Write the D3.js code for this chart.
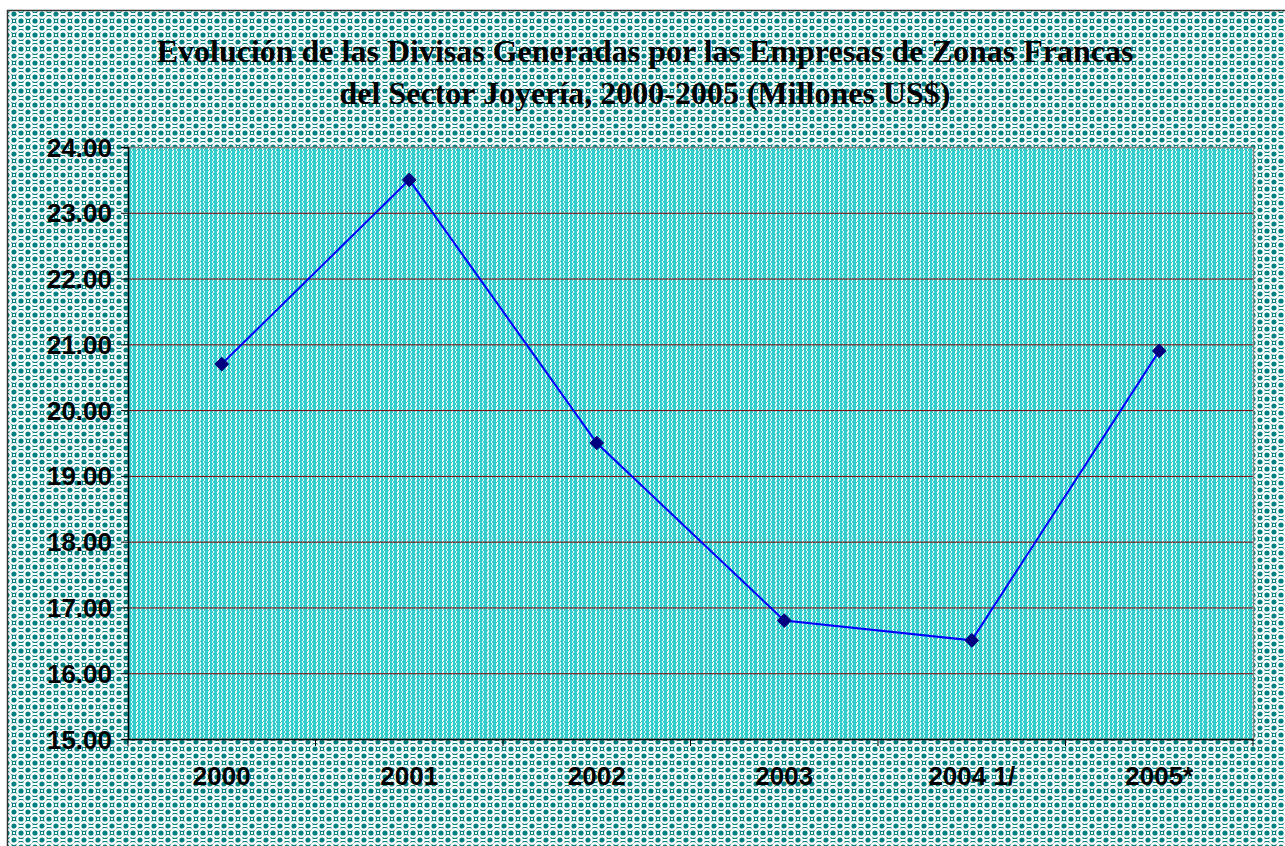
<!DOCTYPE html>
<html><head><meta charset="utf-8">
<script src="https://cdn.jsdelivr.net/npm/d3@7"></script>
<style>body{margin:0;background:#fff}svg{display:block}</style>
</head><body>
<script>
const categories = ["2000","2001","2002","2003","2004 1/","2005*"];
const values = [20.70, 23.50, 19.50, 16.80, 16.50, 20.90];
const yTicks = [15,16,17,18,19,20,21,22,23,24];
const titleLines = ["Evolución de las Divisas Generadas por las Empresas de Zonas Francas","del Sector Joyería, 2000-2005 (Millones US$)"];

const W = 1285, H = 846;
const svg = d3.select("body").append("svg").attr("width", W).attr("height", H);
const defs = svg.append("defs");

// outer lattice pattern
const T = 14;
const p1 = defs.append("pattern").attr("id","outer").attr("patternUnits","userSpaceOnUse").attr("width",T).attr("height",T);
p1.append("rect").attr("width",T).attr("height",T).attr("fill","#008080");
[[T/2,T/2],[0,0],[T,0],[0,T],[T,T]].forEach(([cx,cy])=>{
  p1.append("circle").attr("cx",cx).attr("cy",cy).attr("r",3.8).attr("fill","none").attr("stroke","#ffffff").attr("stroke-width",2.4);
});
p1.append("rect").attr("x",T/2-2).attr("y",-1).attr("width",4).attr("height",2).attr("fill","#ffffff");
p1.append("rect").attr("x",T/2-2).attr("y",T-1).attr("width",4).attr("height",2).attr("fill","#ffffff");
p1.append("rect").attr("x",-1).attr("y",T/2-1).attr("width",2).attr("height",2).attr("fill","#ffffff");
p1.append("rect").attr("x",T-1).attr("y",T/2-1).attr("width",2).attr("height",2).attr("fill","#ffffff");

// inner vertical-stripe pattern
const p2 = defs.append("pattern").attr("id","inner").attr("patternUnits","userSpaceOnUse").attr("width",9).attr("height",4);
p2.append("rect").attr("width",9).attr("height",4).attr("fill","#33CCCC");
p2.append("rect").attr("x",1).attr("y",0).attr("width",1).attr("height",2).attr("fill","#ffffff");
p2.append("rect").attr("x",2).attr("y",2).attr("width",1).attr("height",2).attr("fill","#ffffff");
p2.append("rect").attr("x",2).attr("y",0).attr("width",1).attr("height",1).attr("fill","#bdeeee");
p2.append("rect").attr("x",1).attr("y",3).attr("width",1).attr("height",1).attr("fill","#bdeeee");
p2.append("rect").attr("x",5).attr("y",1).attr("width",1).attr("height",2).attr("fill","#e8fafa");
p2.append("rect").attr("x",6).attr("y",3).attr("width",1).attr("height",1).attr("fill","#e8fafa");
p2.append("rect").attr("x",6).attr("y",0).attr("width",1).attr("height",1).attr("fill","#e8fafa");

svg.append("rect").attr("x",0).attr("y",0).attr("width",W).attr("height",H).attr("fill","#fff");
svg.append("rect").attr("x",7.5).attr("y",10.5).attr("width",W).attr("height",H).attr("fill","url(#outer)").attr("stroke","#333").attr("stroke-width",1.5);

const m = {left:128, top:147, right:1253, bottom:739};
const x = d3.scaleBand().domain(categories).range([m.left, m.right]);
const y = d3.scaleLinear().domain([15,24]).range([m.bottom, m.top]);

svg.append("rect").attr("x",m.left).attr("y",m.top).attr("width",m.right-m.left).attr("height",m.bottom-m.top)
  .attr("fill","url(#inner)");

// gridlines
svg.append("g").selectAll("line").data(yTicks.filter(d=>d>15)).join("line")
  .attr("x1",m.left).attr("x2",m.right).attr("y1",d=>y(d)+0.5).attr("y2",d=>y(d)+0.5)
  .attr("stroke","#800000").attr("stroke-width",1);

// plot border
svg.append("rect").attr("x",m.left+0.5).attr("y",m.top+0.5).attr("width",m.right-m.left).attr("height",m.bottom-m.top)
  .attr("fill","none").attr("stroke","#808080").attr("stroke-width",1.5);

const axisFont = "Liberation Sans, Arial, sans-serif";
// y axis
const yAxis = svg.append("g").attr("transform",`translate(${m.left},0)`)
  .call(d3.axisLeft(y).tickValues(yTicks).tickFormat(d3.format(".2f")).tickSize(7).tickPadding(9));
yAxis.select(".domain").attr("stroke","#000").attr("stroke-width",1.5);
yAxis.selectAll(".tick line").attr("stroke","#000");
yAxis.selectAll("text").attr("font-family",axisFont).attr("font-weight","bold").attr("font-size","26px").attr("fill","#000").attr("dy","0.35em");

// x axis
const xAxis = svg.append("g").attr("transform",`translate(0,${m.bottom})`)
  .call(d3.axisBottom(x).tickSize(0).tickPadding(28));
xAxis.select(".domain").attr("stroke","#000").attr("stroke-width",1.5);
xAxis.selectAll("text").attr("font-family",axisFont).attr("font-weight","bold").attr("font-size","26px").attr("fill","#000");
const bounds = categories.map(c=>x(c)).concat([m.right]);
xAxis.append("g").selectAll("line").data(bounds).join("line")
  .attr("x1",d=>d).attr("x2",d=>d).attr("y1",0).attr("y2",7).attr("stroke","#000");

// line
const line = d3.line().x((d,i)=>x(categories[i])+x.bandwidth()/2).y(d=>y(d));
svg.append("path").datum(values).attr("d",line).attr("fill","none").attr("stroke","#0000FF").attr("stroke-width",2);
svg.append("g").selectAll("path").data(values).join("path")
  .attr("d", d3.symbol().type(d3.symbolDiamond2).size(120))
  .attr("transform",(d,i)=>`translate(${x(categories[i])+x.bandwidth()/2},${y(d)})`)
  .attr("fill","#000080").attr("stroke","#000080");

// title
svg.append("text").attr("text-anchor","middle")
  .attr("font-family","Liberation Serif, Times New Roman, serif").attr("font-weight","bold").attr("font-size","32px").attr("fill","#000")
  .selectAll("tspan").data(titleLines).join("tspan").attr("x",645).attr("y",(d,i)=>62+i*42).text(d=>d);
</script>
</body></html>
